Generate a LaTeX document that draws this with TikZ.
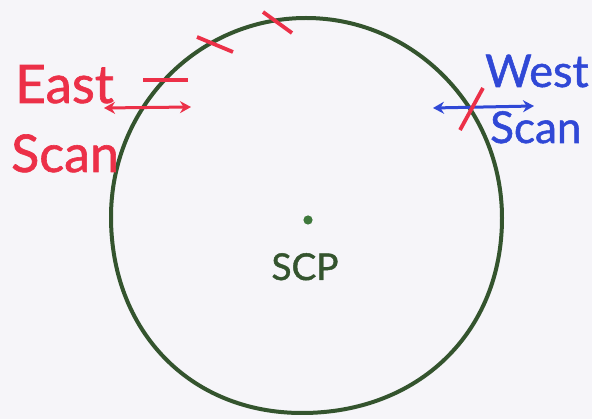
\documentclass[tikz,border=0pt]{standalone}
\usepackage{fontspec}
\setmainfont{Lato}[FakeBold=1.2]
\usetikzlibrary{arrows.meta}
\definecolor{scpgreen}{RGB}{52,84,46}
\definecolor{scpdot}{RGB}{62,120,60}
\definecolor{eastred}{RGB}{236,48,72}
\definecolor{westblue}{RGB}{48,72,214}
\definecolor{paper}{RGB}{246,245,249}
\begin{document}
\begin{tikzpicture}[x=1pt,y=-1pt,
    every node/.style={inner sep=0pt,anchor=base west},
    orbit/.style={draw=scpgreen,line width=4pt},
    tick/.style={draw=eastred,line width=3.8pt},
    scanarrow/.style={line width=3pt,{Stealth[length=11pt,width=12pt]}-{Stealth[length=11pt,width=12pt]}}]
        \fill[paper] (0,0) rectangle (592,419);
        \useasboundingbox (0,0) rectangle (592,419);
        % sky circle round the pole, a little broader at the bottom
        \coordinate (otop) at (306,18);
        \coordinate (oright) at (502,218);
        \coordinate (obottom) at (302,413);
        \coordinate (oleft) at (111,217);
        \draw[orbit] (otop) .. controls (414,18) and (502,108) .. (oright)
            .. controls (502,333) and (418,413) .. (obottom)
            .. controls (190,413) and (111,331) .. (oleft)
            .. controls (111,107) and (198,18) .. (otop) -- cycle;
        \fill[scpdot] (308,220) circle (4.6pt) coordinate (scp);
        \node[text=scpgreen,font=\fontsize{37}{40}\selectfont,anchor=base] (scplabel) at (305,280) {SCP};
        % east side
        \node[text=eastred,font=\fontsize{53}{56}\selectfont] (eastword) at (15,103) {East};
        \node[text=eastred,font=\fontsize{52}{56}\selectfont] (eastscan) at (11,172) {Scan};
        \draw[tick] (263,12) -- (292,33);
        \draw[tick] (197,37) -- (233,52);
        \draw[tick] (143,80) -- (188,80);
        \coordinate (eastL) at (104,108);
        \coordinate (eastR) at (191,107);
        \draw[scanarrow,draw=eastred,fill=eastred] (eastL) -- (eastR);
        % west side
        \node[text=westblue,font=\fontsize{45}{48}\selectfont] (westword) at (485,87) {West};
        \node[text=westblue,font=\fontsize{44}{48}\selectfont] (westscan) at (490,143) {Scan};
        \coordinate (westL) at (433,108);
        \coordinate (westR) at (534,106);
        \draw[scanarrow,draw=westblue,fill=westblue] (westL) -- (westR);
        \draw[tick] (460,130) -- (483,88);
      \end{tikzpicture}
\end{document}
